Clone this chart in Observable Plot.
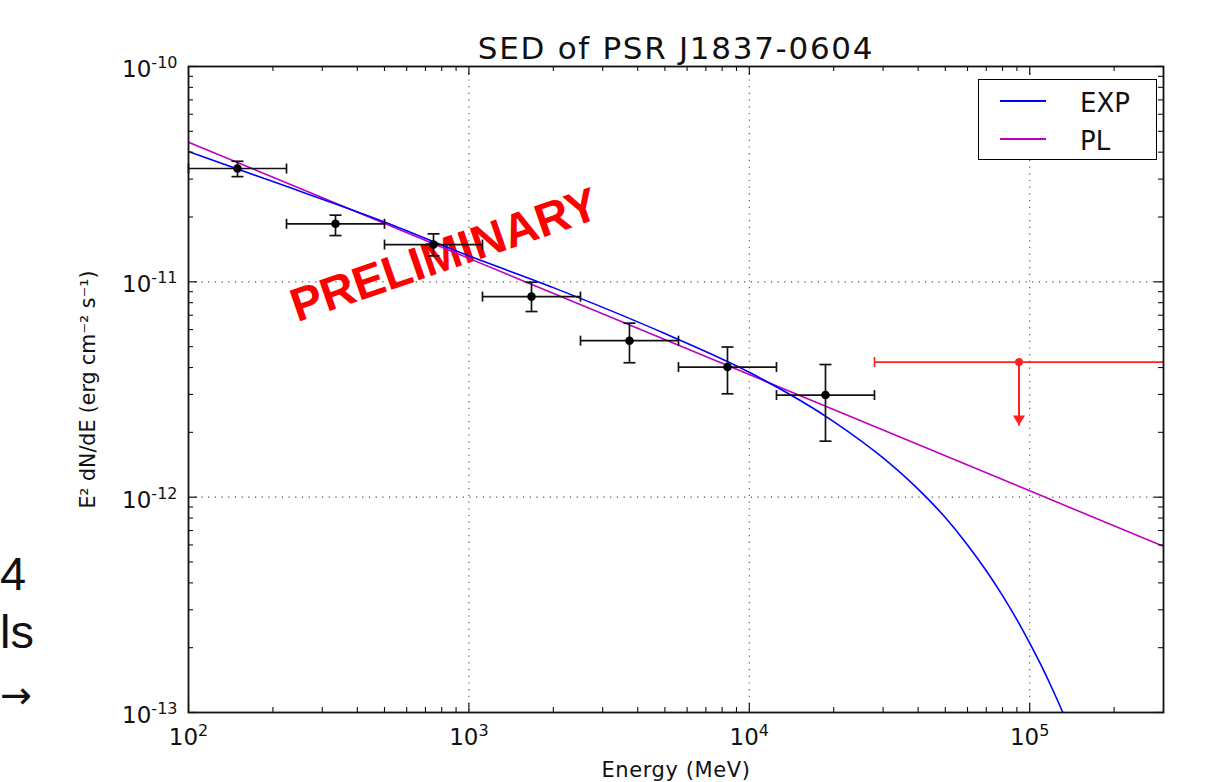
<!DOCTYPE html>
<html>
<head>
<meta charset="utf-8">
<script src="https://cdn.jsdelivr.net/npm/d3@7"></script>
<script src="https://cdn.jsdelivr.net/npm/@observablehq/plot@0.6"></script>
<style>
  html, body { margin: 0; padding: 0; background: #fff; overflow: hidden; }
  #wrap { position: relative; width: 1209px; height: 782px; background: #fff; }
  #wrap svg { position: absolute; left: 0; top: 0; }
  .frag { position: absolute; left: 0px; text-align: left;
          font-family: "Liberation Sans", Arial, sans-serif; font-size: 47px; line-height: 47px; color: #111; white-space: nowrap; }
  .frag.arrow { font-family: "DejaVu Sans", sans-serif; font-size: 38px; line-height: 38px; }
  #legend { position: absolute; left: 978px; top: 79px; width: 177px; height: 79px;
            border: 1.5px solid #000; background: #fff; font-family: "DejaVu Sans", sans-serif; }
  #legend .sw { position: absolute; left: 21px; width: 46px; height: 1.6px; }
  #legend .lab { position: absolute; left: 101px; font-size: 26px; line-height: 26px; color: #111; }
</style>
</head>
<body>
<div id="wrap"></div>
<script>
// ---------- data ----------
// Energy bins (MeV) of the detected points
const binLow  = [100, 223.6, 500, 1118, 2500, 5590, 12500];
const binHigh = [223.6, 500, 1118, 2500, 5590, 12500, 27951];
const energy  = [149.5, 334.4, 747.7, 1672, 3738, 8359, 18692];
// E^2 dN/dE (erg cm^-2 s^-1)
const flux    = [3.36e-11, 1.86e-11, 1.49e-11, 8.54e-12, 5.33e-12, 4.02e-12, 2.98e-12];
const fluxLo  = [3.08e-11, 1.64e-11, 1.32e-11, 7.28e-12, 4.21e-12, 3.02e-12, 1.82e-12];
const fluxHi  = [3.63e-11, 2.04e-11, 1.67e-11, 9.96e-12, 6.43e-12, 4.98e-12, 4.13e-12];

// Upper limit (red)
const ulEnergy = [91570];
const ulLow    = [27951];
const ulHigh   = [300000];
const ulFlux   = [4.24e-12];
const ulArrow  = [2.15e-12];

// Model curves
const expEnergy = [100, 200, 500, 1000, 2000, 5000, 10000, 20000, 30000, 40000, 50000, 60000,
                   70000, 80000, 90000, 100000, 110000, 120000, 130000, 140000];
const expFlux   = [4.03e-11, 2.92e-11, 1.897e-11, 1.32e-11, 9.40e-12, 5.75e-12, 3.80e-12, 2.244e-12,
                   1.521e-12, 1.089e-12, 8.04e-13, 6.0e-13, 4.55e-13, 3.49e-13, 2.70e-13, 2.10e-13,
                   1.65e-13, 1.30e-13, 1.03e-13, 8.2e-14];
const plEnergy = [100, 1000, 10000, 100000, 300000];
const plFlux   = [4.45e-11, 1.285e-11, 3.71e-12, 1.07e-12, 5.91e-13];

// Axis ticks
const xMajor = [100, 1000, 10000, 100000];
const yMajor = [1e-13, 1e-12, 1e-11, 1e-10];
const mults  = [2, 3, 4, 5, 6, 7, 8, 9];
const xMinor = xMajor.flatMap(d => mults.map(m => m * d)).filter(v => v < 3e5);
const yMinor = yMajor.slice(0, 3).flatMap(d => mults.map(m => m * d));

const titleText = "SED of PSR J1837-0604";
const xLabel = "Energy (MeV)";
const yLabel = "E² dN/dE (erg cm⁻² s⁻¹)";
const stamp = "PRELIMINARY";

// ---------- tables built from the arrays ----------
const points = energy.map((e, i) => ({e, f: flux[i], lo: fluxLo[i], hi: fluxHi[i], xl: binLow[i], xh: binHigh[i]}));
const ul = ulEnergy.map((e, i) => ({e, f: ulFlux[i], xl: ulLow[i], xh: ulHigh[i], tip: ulArrow[i]}));
const expData = expEnergy.map((e, i) => ({e, f: expFlux[i]}));
const plData = plEnergy.map((e, i) => ({e, f: plFlux[i]}));

// ---------- layout ----------
const W = 1209, H = 782, mL = 188, mR = 46, mT = 66, mB = 70;
const pW = W - mL - mR, pH = H - mT - mB;
const majLen = 9, minLen = 5;

// custom symbols
const capV = {draw(ctx) { ctx.moveTo(0, -5); ctx.lineTo(0, 5); }};
const capH = {draw(ctx) { ctx.moveTo(-6, 0); ctx.lineTo(6, 0); }};
const downTri = {draw(ctx) { ctx.moveTo(0, 0); ctx.lineTo(-6, -10); ctx.lineTo(6, -10); ctx.closePath(); }};

const expFmt = d => "10|" + Math.round(Math.log10(d));

const chart = Plot.plot({
  width: W, height: H,
  marginLeft: mL, marginRight: mR, marginTop: mT, marginBottom: mB,
  x: {type: "log", domain: [100, 3e5]},
  y: {type: "log", domain: [1e-13, 1e-10]},
  style: {fontFamily: "DejaVu Sans, sans-serif", background: "white", color: "#111", overflow: "visible"},
  marks: [
    // grid
    Plot.gridX([1000, 10000, 100000], {stroke: "#222", strokeOpacity: 0.8, strokeWidth: 1.1, strokeDasharray: "1.2,5.5"}),
    Plot.gridY([1e-12, 1e-11], {stroke: "#222", strokeOpacity: 0.8, strokeWidth: 1.1, strokeDasharray: "1.2,5.5"}),
    // stamp
    Plot.text([stamp], {text: d => d, frameAnchor: "top-left", dx: 256, dy: 189, rotate: -19,
      textAnchor: "middle", lineAnchor: "middle", fill: "#ff0000", fontSize: 47, fontWeight: "bold",
      fontFamily: "Liberation Sans, Arial, sans-serif"}),
    // model curves
    Plot.line(plData, {x: "e", y: "f", stroke: "#bf00bf", strokeWidth: 1.6, clip: true}),
    Plot.line(expData, {x: "e", y: "f", stroke: "#0000ff", strokeWidth: 1.6, curve: "monotone-x", clip: true}),
    // error bars
    Plot.link(points, {x1: "xl", x2: "xh", y1: "f", y2: "f", stroke: "#111", strokeWidth: 1.7}),
    Plot.link(points, {x1: "e", x2: "e", y1: "lo", y2: "hi", stroke: "#111", strokeWidth: 1.7}),
    Plot.dot(points, {x: "xl", y: "f", symbol: capV, fill: "none", stroke: "#111", strokeWidth: 1.7}),
    Plot.dot(points, {x: "xh", y: "f", symbol: capV, fill: "none", stroke: "#111", strokeWidth: 1.7}),
    Plot.dot(points, {x: "e", y: "lo", symbol: capH, fill: "none", stroke: "#111", strokeWidth: 1.7}),
    Plot.dot(points, {x: "e", y: "hi", symbol: capH, fill: "none", stroke: "#111", strokeWidth: 1.7}),
    Plot.dot(points, {x: "e", y: "f", r: 4.3, fill: "#000", stroke: "none"}),
    // upper limit
    Plot.link(ul, {x1: "xl", x2: "xh", y1: "f", y2: "f", stroke: "#ff2020", strokeWidth: 1.8, clip: true}),
    Plot.dot(ul, {x: "xl", y: "f", symbol: capV, fill: "none", stroke: "#ff2020", strokeWidth: 1.7}),
    Plot.link(ul, {x1: "e", x2: "e", y1: "f", y2: "tip", stroke: "#ff2020", strokeWidth: 2}),
    Plot.dot(ul, {x: "e", y: "tip", symbol: downTri, fill: "#ff2020", stroke: "none"}),
    Plot.dot(ul, {x: "e", y: "f", r: 4, fill: "#ff2020", stroke: "none"}),
    // inward ticks (all four sides)
    Plot.tickX(xMajor, {x: d => d, insetTop: pH - majLen, stroke: "#111", strokeWidth: 1.2}),
    Plot.tickX(xMajor, {x: d => d, insetBottom: pH - majLen, stroke: "#111", strokeWidth: 1.2}),
    Plot.tickX(xMinor, {x: d => d, insetTop: pH - minLen, stroke: "#111", strokeWidth: 1.1}),
    Plot.tickX(xMinor, {x: d => d, insetBottom: pH - minLen, stroke: "#111", strokeWidth: 1.1}),
    Plot.tickY(yMajor, {y: d => d, insetRight: pW - majLen, stroke: "#111", strokeWidth: 1.2}),
    Plot.tickY(yMajor, {y: d => d, insetLeft: pW - majLen, stroke: "#111", strokeWidth: 1.2}),
    Plot.tickY(yMinor, {y: d => d, insetRight: pW - minLen, stroke: "#111", strokeWidth: 1.1}),
    Plot.tickY(yMinor, {y: d => d, insetLeft: pW - minLen, stroke: "#111", strokeWidth: 1.1}),
    Plot.frame({stroke: "#111", strokeWidth: 1.8}),
    // axes
    Plot.axisX(xMajor, {tickSize: 0, tickPadding: 16, tickFormat: expFmt, fontSize: 23, label: null, fill: "#111"}),
    Plot.axisY(yMajor, {tickSize: 0, tickPadding: 11, tickFormat: expFmt, fontSize: 23, label: null, dy: 3, fill: "#111"}),
    // labels & title
    Plot.text([titleText], {text: d => d, frameAnchor: "top", dy: -8, textAnchor: "middle", lineAnchor: "bottom",
      fontSize: 31, fill: "#111"}),
    Plot.text([xLabel], {text: d => d, frameAnchor: "bottom", dy: 64, textAnchor: "middle", lineAnchor: "bottom",
      fontSize: 21, fill: "#111"}),
    Plot.text([yLabel], {text: d => d, frameAnchor: "left", dx: -100, rotate: -90, textAnchor: "middle",
      lineAnchor: "middle", fontSize: 20.5, fill: "#111"})
  ]
});

// superscript exponents in tick labels (matplotlib-like 10^n)
d3.select(chart).selectAll('g[aria-label="x-axis tick label"] text, g[aria-label="y-axis tick label"] text').each(function () {
  const t = this.textContent;
  if (!t.includes("|")) return;
  const [base, ex] = t.split("|");
  const sel = d3.select(this);
  sel.text(null);
  sel.append("tspan").text(base);
  sel.append("tspan").attr("dy", -9).attr("font-size", "16px").text(ex);
});
// slightly wider letter spacing for the title and x label (reference glyphs are wider)
d3.select(chart).selectAll("text").each(function () {
  if (this.textContent === titleText) this.setAttribute("letter-spacing", "1.7px");
  if (this.textContent === xLabel) this.setAttribute("letter-spacing", "0.6px");
});

const wrap = document.getElementById("wrap");
wrap.appendChild(chart);

// slide fragments at the left edge
[["4", 550, ""], ["ls", 608, ""], ["→", 676, "arrow"]].forEach(([txt, top, cls]) => {
  const d = document.createElement("div");
  d.className = "frag " + cls; d.style.top = top + "px"; d.textContent = txt;
  wrap.appendChild(d);
});

// legend
const legendItems = [["EXP", "#0000ff"], ["PL", "#bf00bf"]];
const leg = document.createElement("div");
leg.id = "legend";
legendItems.forEach(([name, color], i) => {
  const sw = document.createElement("div");
  sw.className = "sw"; sw.style.background = color; sw.style.top = (20 + i * 38.3) + "px";
  const lb = document.createElement("div");
  lb.className = "lab"; lb.style.top = (10 + i * 38.3) + "px"; lb.textContent = name;
  leg.appendChild(sw); leg.appendChild(lb);
});
wrap.appendChild(leg);
</script>
</body>
</html>
